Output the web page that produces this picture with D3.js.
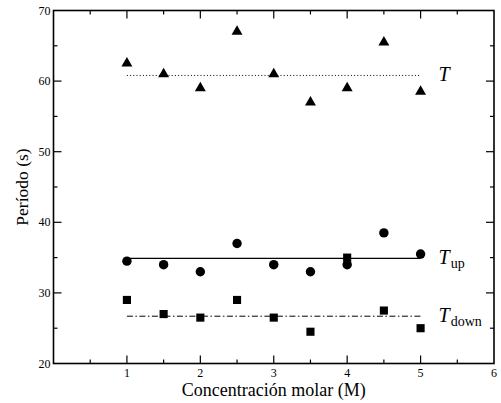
<!DOCTYPE html>
<html>
<head>
<meta charset="utf-8">
<script src="https://cdn.jsdelivr.net/npm/d3@7"></script>
<style>
body { margin:0; background:#fff; }
</style>
</head>
<body>
<script>
// concentraciones y periodos
var conc = [1, 1.5, 2, 2.5, 3, 3.5, 4, 4.5, 5]
var periodoT = [62.5, 61, 59, 67, 61, 57, 59, 65.5, 58.5]
var periodoUp = [34.5, 34, 33, 37, 34, 33, 34, 38.5, 35.5]
var periodoDown = [29, 27, 26.5, 29, 26.5, 24.5, 35, 27.5, 25]
var mediaT = 60.8, mediaUp = 34.9, mediaDown = 26.7
var xTicks = [1, 2, 3, 4, 5, 6]
var yTicks = [20, 30, 40, 50, 60, 70]

var W = 501, H = 403
var m = {left: 53.5, right: 7, top: 10.5, bottom: 39.5}
var SERIF = "'Liberation Serif', 'Times New Roman', Times, 'DejaVu Serif', serif"

var svg = d3.select("body").append("svg")
	.attr("width", W).attr("height", H)
	.attr("font-family", SERIF)

var x = d3.scaleLinear().domain([0, 6]).range([m.left, W - m.right])
var y = d3.scaleLinear().domain([20, 70]).range([H - m.bottom, m.top])

var x0 = x.range()[0], x1 = x.range()[1], y0 = y.range()[0], y1 = y.range()[1]

// ticks hacia adentro en los cuatro lados
var xMinor = d3.range(0.5, 6, 0.5)
var yMinor = d3.range(25, 70, 5)
var g = svg.append("g").attr("stroke", "#000").attr("stroke-width", 1.2)
xMinor.forEach(function(v){
	var len = (v % 1 == 0) ? 8 : 4
	g.append("line").attr("x1", x(v)).attr("x2", x(v)).attr("y1", y0).attr("y2", y0 - len)
	g.append("line").attr("x1", x(v)).attr("x2", x(v)).attr("y1", y1).attr("y2", y1 + len)
})
yMinor.forEach(function(v){
	var len = (v % 10 == 0) ? 8 : 4
	g.append("line").attr("x1", x0).attr("x2", x0 + len).attr("y1", y(v)).attr("y2", y(v))
	g.append("line").attr("x1", x1).attr("x2", x1 - len).attr("y1", y(v)).attr("y2", y(v))
})
svg.append("rect")
	.attr("x", x0).attr("y", y1).attr("width", x1 - x0).attr("height", y0 - y1)
	.attr("fill", "none").attr("stroke", "#000").attr("stroke-width", 1.6)

// etiquetas
svg.selectAll(".xt").data(xTicks).enter().append("text")
	.attr("x", function(d){return x(d)}).attr("y", y0 + 13)
	.attr("text-anchor", "middle").style("font-size", "12px")
	.text(function(d){return d})
svg.selectAll(".yt").data(yTicks).enter().append("text")
	.attr("x", x0 - 3).attr("y", function(d){return y(d) + 4})
	.attr("text-anchor", "end").style("font-size", "12px")
	.text(function(d){return d})

svg.append("text").attr("x", (x0 + x1) / 2).attr("y", 396)
	.attr("text-anchor", "middle").style("font-size", "18px")
	.text("Concentración molar (M)")
svg.append("text")
	.attr("transform", "translate(28," + ((y0 + y1) / 2) + ") rotate(-90)")
	.attr("text-anchor", "middle").style("font-size", "17.5px")
	.text("Período (s)")

// lineas de promedio
var lineas = [
	{v: mediaT, dash: "1,2.2", w: 1},
	{v: mediaUp, dash: null, w: 1.2},
	{v: mediaDown, dash: "6,2.5,1.5,2.5", w: 1}
]
lineas.forEach(function(l){
	svg.append("line")
		.attr("x1", x(1)).attr("x2", x(5))
		.attr("y1", y(l.v)).attr("y2", y(l.v))
		.attr("stroke", "#000").attr("stroke-width", l.w)
		.attr("stroke-dasharray", l.dash)
})

// marcadores
function puntos(vals, tipo, size){
	svg.append("g").selectAll("path").data(vals).enter().append("path")
		.attr("d", d3.symbol().type(tipo).size(size))
		.attr("transform", function(d, i){return "translate(" + x(conc[i]) + "," + y(d) + ")"})
		.attr("fill", "#000")
}
puntos(periodoT, d3.symbolTriangle, 52)
puntos(periodoUp, d3.symbolCircle, 70)
puntos(periodoDown, d3.symbolSquare, 66)

// nombres de las series
function nombre(v, sub){
	var t = svg.append("text").attr("x", x(5) + 18).attr("y", y(v) + 6)
		.style("font-size", "20px")
	t.append("tspan").style("font-style", "italic").text("T")
	if (sub) t.append("tspan").attr("dy", 4).attr("dx", 1).style("font-size", "14px").text(sub)
}
nombre(mediaT, null)
nombre(mediaUp, "up")
nombre(mediaDown, "down")
</script>
</body>
</html>
